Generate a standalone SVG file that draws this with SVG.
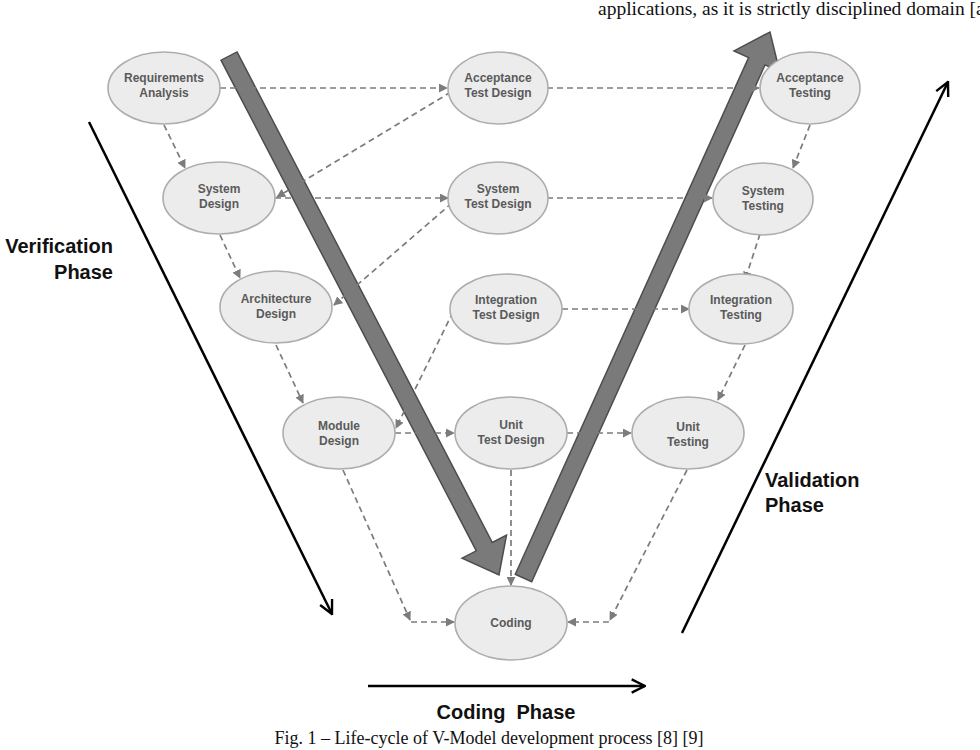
<svg xmlns="http://www.w3.org/2000/svg" width="980" height="750" viewBox="0 0 980 750">
<style>
.node ellipse{fill:#ececec;stroke:#adadad;stroke-width:1.6}
.node text{font-family:"Liberation Sans",Arial,sans-serif;font-size:12px;font-weight:bold;fill:#5a5a5a;text-anchor:middle}
.dash{fill:none;stroke:#7c7c7c;stroke-width:1.7;stroke-dasharray:6 4;marker-end:url(#ah)}
.big{fill:#7a7a7a;stroke:#4d4d4d;stroke-width:1.5;stroke-linejoin:miter}
.blk{fill:none;stroke:#000;stroke-width:2.5;marker-end:url(#bh)}
.phase{font-family:"Liberation Sans",Arial,sans-serif;font-size:20px;font-weight:bold;fill:#111}
.times{font-family:"Liberation Serif","Times New Roman",serif;fill:#111}
</style>
<defs>
<marker id="ah" viewBox="0 0 10 10" refX="9" refY="5" markerWidth="9" markerHeight="9" markerUnits="userSpaceOnUse" orient="auto">
<path d="M0,0 L10,5 L0,10 z" fill="#7c7c7c"/>
</marker>
<marker id="bh" viewBox="0 0 12 12" refX="11" refY="6" markerWidth="16" markerHeight="16" markerUnits="userSpaceOnUse" orient="auto">
<path d="M1,1 L11,6 L1,11" fill="none" stroke="#000" stroke-width="1.8"/>
</marker>
</defs>
<rect width="980" height="750" fill="#fff"/>
<text class="times" x="598" y="15" font-size="19.5">applications, as it is strictly disciplined domain [a</text>

<g id="verify-arrow">
<polygon class="big" points="237,51.9 492.3,542.5 506.5,535.1 499,575 462.1,558.1 476.3,550.8 221,60.2"/>
</g>
<g id="validate-arrow">
<polygon class="big" points="515.3,574.3 748.6,57.5 734,50.9 770,32 779.6,71.5 765,64.9 531.7,581.7"/>
</g>

<g id="connectors">
<path class="dash" d="M220,88 L447,88"/>
<path class="dash" d="M547,88 L759,88"/>
<path class="dash" d="M451,92 L277,197"/>
<path class="dash" d="M275,198 L448,198"/>
<path class="dash" d="M452,203 L334,305"/>
<path class="dash" d="M547,198 L712,198"/>
<path class="dash" d="M562,309 L689,309"/>
<path class="dash" d="M453,312 L396,428"/>
<path class="dash" d="M395,433 L454,433"/>
<path class="dash" d="M567,433 L631,433"/>
<path class="dash" d="M164,125 L185,168"/>
<path class="dash" d="M220,235 L240,278"/>
<path class="dash" d="M276,345 L303,403"/>
<path class="dash" d="M810,125 L793,168"/>
<path class="dash" d="M760,234 L745,280"/>
<path class="dash" d="M745,345 L718,400"/>
<path class="dash" d="M343,470 L410,620"/>
<path class="dash" d="M411,622 L454,622"/>
<path class="dash" d="M687,470 L610,620"/>
<path class="dash" d="M609,622 L568,622"/>
<path class="dash" d="M511,470 L511,585"/>
</g>

<g id="n-req" class="node"><ellipse cx="164" cy="88" rx="56" ry="36"/><text x="164" y="82">Requirements</text><text x="164" y="97">Analysis</text></g>
<g id="n-atd" class="node"><ellipse cx="498" cy="88" rx="50" ry="36"/><text x="498" y="82">Acceptance</text><text x="498" y="97">Test Design</text></g>
<g id="n-at" class="node"><ellipse cx="810" cy="88" rx="50" ry="36"/><text x="810" y="82">Acceptance</text><text x="810" y="97">Testing</text></g>
<g id="n-sd" class="node"><ellipse cx="219" cy="198" rx="56" ry="36"/><text x="219" y="193">System</text><text x="219" y="208">Design</text></g>
<g id="n-std" class="node"><ellipse cx="498" cy="198" rx="50" ry="36"/><text x="498" y="193">System</text><text x="498" y="208">Test Design</text></g>
<g id="n-st" class="node"><ellipse cx="763" cy="199" rx="50" ry="36"/><text x="763" y="195">System</text><text x="763" y="210">Testing</text></g>
<g id="n-ad" class="node"><ellipse cx="276" cy="307" rx="56" ry="36"/><text x="276" y="303">Architecture</text><text x="276" y="318">Design</text></g>
<g id="n-itd" class="node"><ellipse cx="506" cy="309" rx="56" ry="35"/><text x="506" y="304">Integration</text><text x="506" y="319">Test Design</text></g>
<g id="n-it" class="node"><ellipse cx="741" cy="309" rx="52" ry="35"/><text x="741" y="304">Integration</text><text x="741" y="319">Testing</text></g>
<g id="n-md" class="node"><ellipse cx="339" cy="433" rx="56" ry="36"/><text x="339" y="430">Module</text><text x="339" y="445">Design</text></g>
<g id="n-utd" class="node"><ellipse cx="511" cy="433" rx="56" ry="36"/><text x="511" y="429">Unit</text><text x="511" y="444">Test Design</text></g>
<g id="n-ut" class="node"><ellipse cx="688" cy="433" rx="56" ry="36"/><text x="688" y="431">Unit</text><text x="688" y="446">Testing</text></g>
<g id="n-coding" class="node"><ellipse cx="511" cy="623" rx="56" ry="37"/><text x="511" y="627">Coding</text></g>

<g id="phase-lines">
<path class="blk" d="M89,122 L332,614"/>
<path class="blk" d="M682,633 L948,82"/>
<path class="blk" d="M368,686 L645,686"/>
</g>
<text class="phase" x="113" y="253" text-anchor="end">Verification</text>
<text class="phase" x="113" y="279" text-anchor="end">Phase</text>
<text class="phase" x="765" y="487">Validation</text>
<text class="phase" x="765" y="512">Phase</text>
<text class="phase" x="506" y="719" font-size="21" text-anchor="middle" xml:space="preserve">Coding  Phase</text>
<text class="times" x="489" y="744" font-size="18" text-anchor="middle">Fig. 1 – Life-cycle of V-Model development process [8] [9]</text>
</svg>
